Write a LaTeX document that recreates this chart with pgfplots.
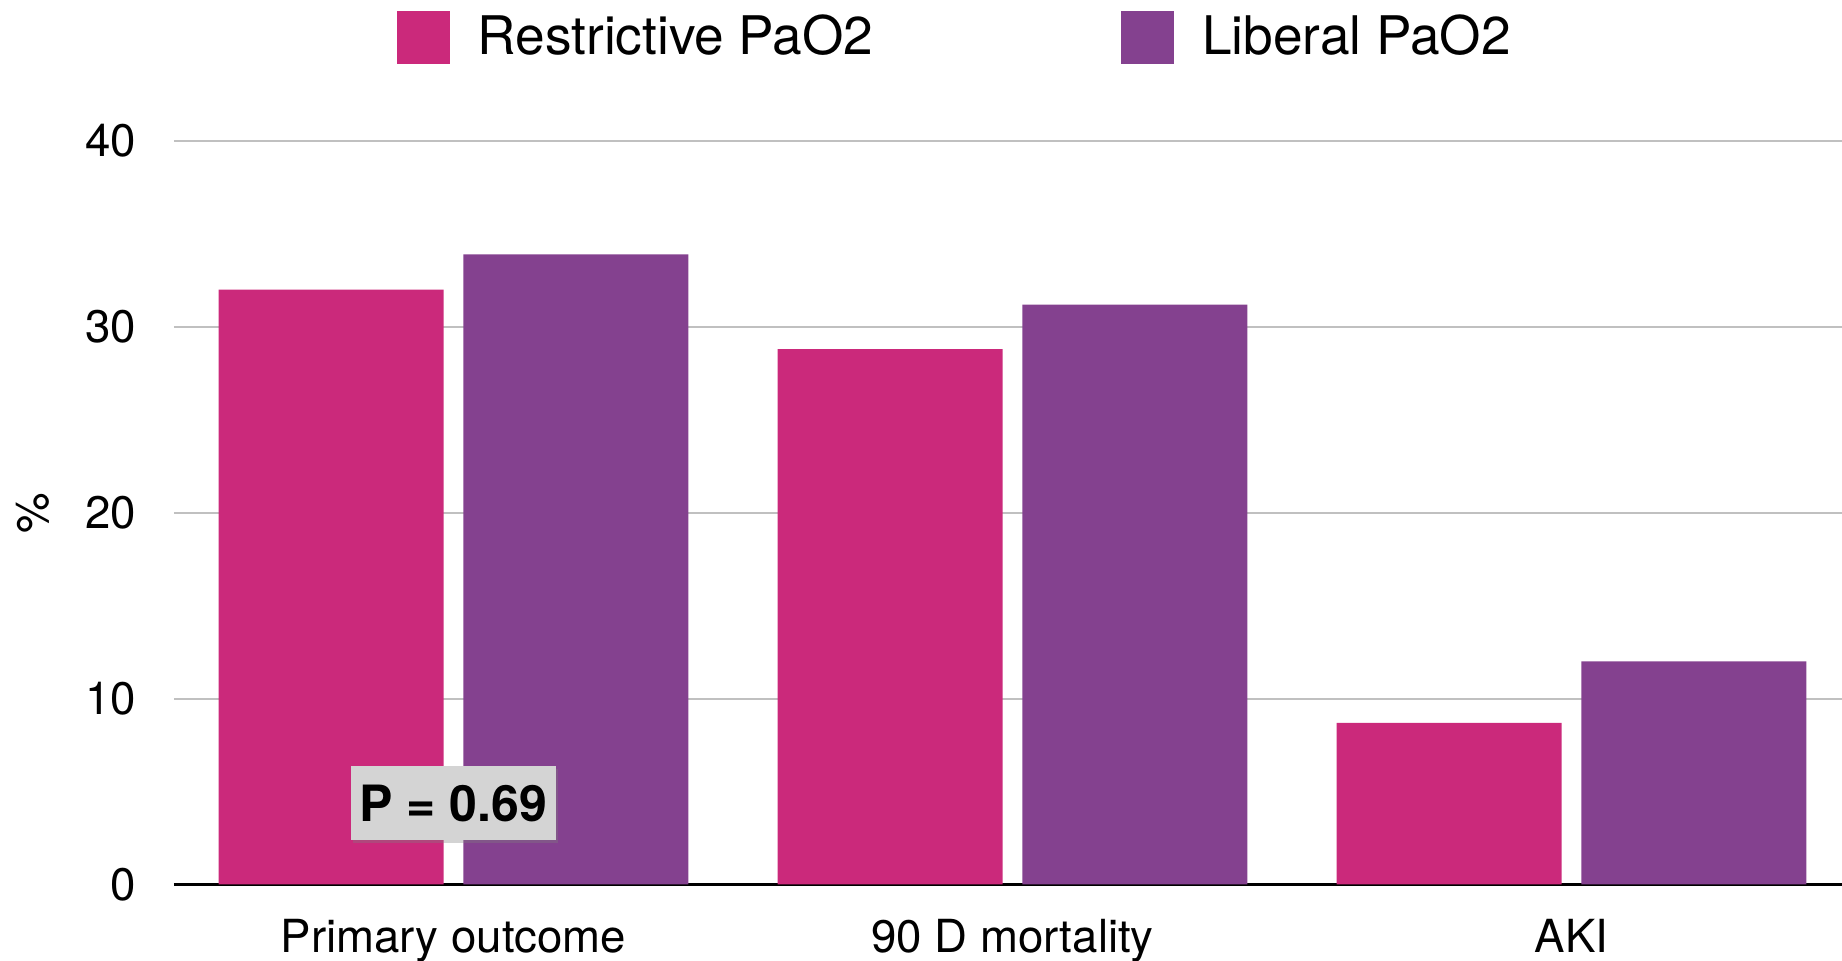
\documentclass[border=0pt]{standalone}
\usepackage{fontspec}
\setmainfont{TeX Gyre Heros}
\usepackage{pgfplots}
\pgfplotsset{compat=1.18}
\usetikzlibrary{shadows}
\definecolor{restr}{RGB}{203,41,123}
\definecolor{liber}{RGB}{132,65,143}
\definecolor{gridc}{RGB}{192,192,192}
\definecolor{pbox}{RGB}{212,212,212}
\begin{document}
\begin{tikzpicture}
\begin{axis}[
  at={(0,0)}, anchor=south west,
  scale only axis,
  width=417pt, height=185.875pt,
  xmin=-0.5, xmax=2.484, ymin=0, ymax=40,
  axis line style={draw=none},
  major tick length=0pt,
  ytick={0,10,20,30,40},
  xtick={0,1,2},
  xticklabels={Primary outcome, 90 D mortality, AKI},
  ymajorgrids, grid style={gridc, line width=0.5pt},
  extra y ticks={0}, extra y tick labels={},
  extra y tick style={grid=major, major grid style={black, line width=0.6pt}},
  /pgf/number format/assume math mode=true,
  tick label style={font=\fontsize{11.4}{13}\selectfont},
  xticklabel style={yshift=-5.2pt},
  yticklabel style={xshift=-6pt},
  ylabel={\%},
  ylabel style={at={(axis description cs:-0.0845,0.5)}, anchor=center, font=\fontsize{11.4}{13}\selectfont},
  ybar, bar width=0.4025,
  legend columns=2,
  legend style={draw=none, fill=none, at={(axis description cs:0.470,1.139)}, anchor=center,
    font=\fontsize{13.3}{15}\selectfont,
    /tikz/every even column/.append style={column sep=60pt}},
  legend image code/.code={\fill[#1] (0pt,-6.6pt) rectangle (13.2pt,6.6pt); \path (18.2pt,0pt);},
  clip=false,
]
\addplot[fill=restr, draw=none, bar shift=-0.219] coordinates {(0,32) (1,28.8) (2,8.7)};
\addplot[fill=liber, draw=none, bar shift=0.219] coordinates {(0,33.9) (1,31.2) (2,12)};
\legend{Restrictive PaO2, Liberal PaO2}
\node[fill=pbox, drop shadow={opacity=0.35, shadow xshift=0.6pt, shadow yshift=-0.8pt},
  font=\bfseries\fontsize{12.5}{14}\selectfont, minimum width=51.25pt, minimum height=18.5pt,
  inner sep=0pt] at (axis cs:0,4.38) {P = 0.69};
\end{axis}
\pgfresetboundingbox
\path (-43.5pt,-19.125pt) rectangle (417pt,221.125pt);
\end{tikzpicture}
\end{document}
